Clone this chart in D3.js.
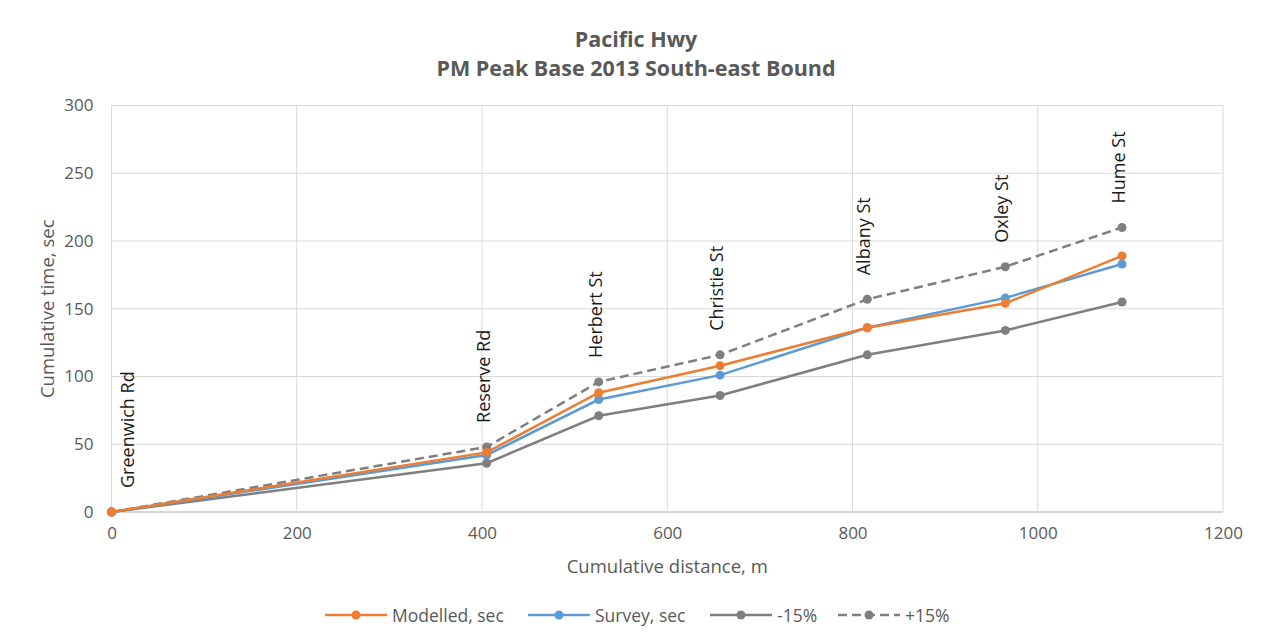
<!DOCTYPE html>
<html>
<head>
<meta charset="utf-8">
<script src="https://cdnjs.cloudflare.com/ajax/libs/d3/7.8.5/d3.min.js"></script>
<style>
  body { margin: 0; background: #fff; }
  text { font-family: "Open Sans", sans-serif; }
</style>
</head>
<body>
<div id="chart"></div>
<script>
// cumulative distance (m) at each intersection
var distance = [0, 405, 526, 657, 816, 965, 1091];
var streets = ["Greenwich Rd", "Reserve Rd", "Herbert St", "Christie St", "Albany St", "Oxley St", "Hume St"];

// cumulative time (sec)
var modelled = [0, 44, 88, 108, 136, 154, 189];
var survey = [0, 42, 83, 101, 136, 158, 183];
var minus15 = [0, 36, 71, 86, 116, 134, 155];
var plus15 = [0, 48, 96, 116, 157, 181, 210];

var xTicks = [0, 200, 400, 600, 800, 1000, 1200];
var yTicks = [0, 50, 100, 150, 200, 250, 300];

var series = [
    {name: "Modelled, sec", values: modelled, color: "#ED7D31", dash: null},
    {name: "Survey, sec", values: survey, color: "#5B9BD5", dash: null},
    {name: "-15%", values: minus15, color: "#7F7F7F", dash: null},
    {name: "+15%", values: plus15, color: "#7F7F7F", dash: "9,5"}
];

var width = 1262, height = 640;
var margin = {top: 105.5, right: 39, bottom: 128, left: 111.5};

var svg = d3.select("#chart")
    .append("svg")
    .attr("width", width)
    .attr("height", height);

var x = d3.scaleLinear().domain([0, 1200]).range([margin.left, width - margin.right]);
var y = d3.scaleLinear().domain([0, 300]).range([height - margin.bottom, margin.top]);

// gridlines
svg.append("g")
    .selectAll("line")
    .data(yTicks)
    .enter()
    .append("line")
    .attr("x1", x(0)).attr("x2", x(1200))
    .attr("y1", function(d){ return y(d) }).attr("y2", function(d){ return y(d) })
    .style("stroke", function(d){ return d === 0 ? "#c8c8c8" : "#d9d9d9" })
    .style("stroke-width", function(d){ return d === 0 ? 1.5 : 1 });

svg.append("g")
    .selectAll("line")
    .data(xTicks)
    .enter()
    .append("line")
    .attr("y1", y(0)).attr("y2", y(300))
    .attr("x1", function(d){ return x(d) }).attr("x2", function(d){ return x(d) })
    .style("stroke", "#d9d9d9");

// axes (labels only)
var xAxis = svg.append("g")
    .attr("transform", "translate(0," + y(0) + ")")
    .call(d3.axisBottom(x).tickValues(xTicks).tickFormat(d3.format("d")).tickSize(0).tickPadding(15));
var yAxis = svg.append("g")
    .attr("transform", "translate(" + x(0) + ",0)")
    .call(d3.axisLeft(y).tickValues(yTicks).tickFormat(d3.format("d")).tickSize(0).tickPadding(18));
[xAxis, yAxis].forEach(function(a){
    a.select(".domain").remove();
    a.selectAll("text").style("font-size", "17px").style("fill", "#595959")
        .style("font-family", "'Open Sans', sans-serif");
});

// titles
svg.append("text")
    .attr("x", 636).attr("y", 47)
    .attr("text-anchor", "middle")
    .style("font-size", "21.5px").style("font-weight", "bold").style("fill", "#595959")
    .text("Pacific Hwy");
svg.append("text")
    .attr("x", 636).attr("y", 76)
    .attr("text-anchor", "middle")
    .style("font-size", "21.5px").style("font-weight", "bold").style("fill", "#595959")
    .text("PM Peak Base 2013 South-east Bound");

svg.append("text")
    .attr("x", (x(0) + x(1200)) / 2).attr("y", 565)
    .attr("text-anchor", "middle")
    .attr("dominant-baseline", "central")
    .style("font-size", "18.5px").style("fill", "#595959")
    .text("Cumulative distance, m");

svg.append("text")
    .attr("transform", "translate(46," + (y(0) + y(300)) / 2 + ") rotate(-90)")
    .attr("text-anchor", "middle")
    .attr("dominant-baseline", "central")
    .style("font-size", "18.5px").style("fill", "#595959")
    .text("Cumulative time, sec");

// lines and markers
var line = d3.line()
    .x(function(d){ return x(d[0]) })
    .y(function(d){ return y(d[1]) });

series.slice().reverse().forEach(function(s){
    var pts = distance.map(function(d, i){ return [d, s.values[i]] });
    var g = svg.append("g");
    g.append("path")
        .attr("d", line(pts))
        .attr("fill", "none")
        .style("stroke", s.color)
        .style("stroke-width", 2.5)
        .style("stroke-dasharray", s.dash);
    g.selectAll("circle")
        .data(pts)
        .enter()
        .append("circle")
        .attr("cx", function(d){ return x(d[0]) })
        .attr("cy", function(d){ return y(d[1]) })
        .attr("r", 4.5)
        .attr("fill", s.color);
});

// street labels above the +15% points
svg.append("g")
    .selectAll("text")
    .data(streets)
    .enter()
    .append("text")
    .attr("transform", function(d, i){
        var px = x(distance[i]) + (i === 0 ? 15 : -4);
        return "translate(" + px + "," + (y(plus15[i]) - 24) + ") rotate(-90)";
    })
    .attr("dominant-baseline", "central")
    .style("font-size", "18px")
    .style("fill", "#1a1a1a")
    .text(function(d){ return d });

// legend
var legend = svg.append("g").attr("transform", "translate(0,615)");
var lx = [325, 528, 710, 838];
series.forEach(function(s, i){
    var item = legend.append("g").attr("transform", "translate(" + lx[i] + ",0)");
    item.append("line")
        .attr("x1", 0).attr("x2", 62)
        .style("stroke", s.color).style("stroke-width", 2.5)
        .style("stroke-dasharray", s.dash);
    item.append("circle").attr("cx", 31).attr("cy", 0).attr("r", 4.5).attr("fill", s.color);
    item.append("text")
        .attr("x", 67).attr("y", 0)
        .attr("dominant-baseline", "central")
        .style("font-size", "17.5px").style("fill", "#595959")
        .text(s.name);
});
</script>
</body>
</html>
